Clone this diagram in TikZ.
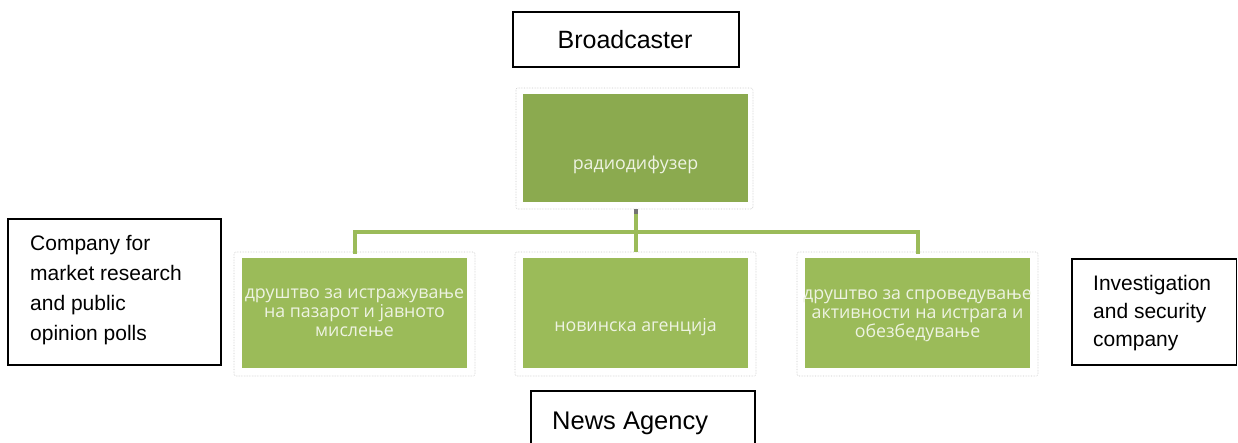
\documentclass[tikz,border=0pt]{standalone}
\usepackage{fontspec}
\setmainfont{Liberation Sans}
\newfontfamily\boxfont{Open Sans}
\definecolor{olivedark}{HTML}{8BAA4F}
\definecolor{olive}{HTML}{9BBB59}
\definecolor{boxtext}{HTML}{EEF3E2}
\definecolor{frameedge}{HTML}{C8C8C8}
\begin{document}
\begin{tikzpicture}[x=1pt,y=-1pt,
  label/.style={draw=black,line width=1.2pt,fill=white,inner sep=0pt},
  frame/.style={draw=frameedge,densely dotted,line width=0.6pt,fill=white,rounded corners=2pt},
  orgtext/.style={font=\boxfont\fontsize{17.8}{19}\selectfont,text=boxtext,align=center,inner sep=0pt},
  tag/.style={font=\fontsize{21}{30}\selectfont,align=left,anchor=west,inner sep=0pt},
  link/.style={draw=olive,line width=4pt}]
\useasboundingbox (0,0) rectangle (1238,442);

% top label
\draw[label] (513,12) rectangle (739,67);
\node[font=\fontsize{25}{28}\selectfont] (bc) at (625,40) {Broadcaster};

% top unit
\draw[frame] (516,88) rectangle (753,209);
\fill[olivedark] (523,94) rectangle (748,202);
\node[orgtext] (top) at (635.5,165) {радиодифузер};
\coordinate (topbot) at (635.5,209);

% bottom units
\draw[frame] (234,252) rectangle (475,376);
\fill[olive] (242,258) rectangle (467,368);
\coordinate (ltop) at (354.5,252);
\draw[frame] (515,252) rectangle (756,376);
\fill[olive] (523,258) rectangle (748,368);
\coordinate (mtop) at (635.5,252);
\draw[frame] (797,252) rectangle (1038,376);
\fill[olive] (805,258) rectangle (1030,368);
\coordinate (rtop) at (917.5,252);

\node[orgtext] (lt) at (354.5,313) {друштво за истражување\\на пазарот и јавното\\мислење};
\node[orgtext] (mt) at (635.5,327) {новинска агенција};
\node[orgtext] (rt) at (917.5,316) {друштво за спроведување\\активности на истрага и\\обезбедување};

% connectors
\coordinate (bus) at (635.5,232);
\draw[link] (topbot) -- (bus);
\draw[link,line cap=rect] (ltop) -- (ltop |- bus) -- (rtop |- bus) -- (rtop);
\draw[link] (bus) -- (mtop);
\fill[black!55] (633.5,209) rectangle (637.5,214);

% side labels
\draw[label] (8,219) rectangle (221,365);
\node[tag] (cl) at (30,290) {Company for\\market research\\and public\\opinion polls};
\draw[label] (1072,259) rectangle (1236.5,365);
\node[tag,font=\fontsize{21}{28}\selectfont] (il) at (1093,313) {Investigation\\and security\\company};
\draw[label] (531,391) rectangle (755,450);
\node[tag,font=\fontsize{25.5}{28}\selectfont] (na) at (552,423) {News Agency};
\end{tikzpicture}
\end{document}
